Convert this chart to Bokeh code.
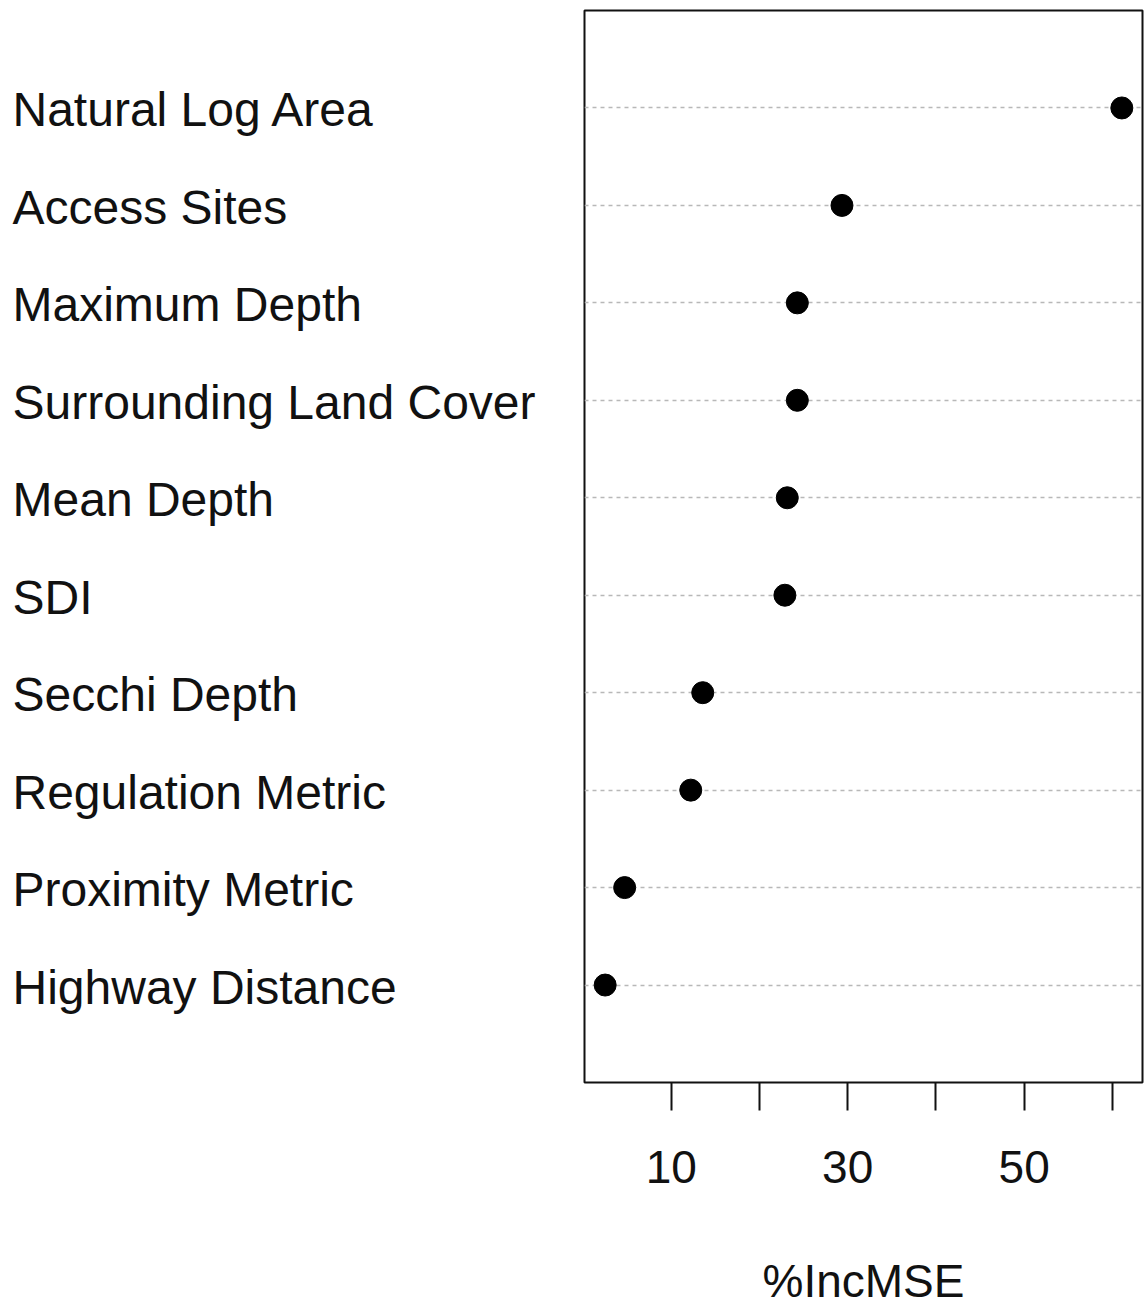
from bokeh.plotting import figure
from bokeh.layouts import row, column
from bokeh.models import Range1d, FixedTicker
from bokeh.core.properties import value
from bokeh.embed import file_html
from bokeh.resources import INLINE

# Variable importance (random forest), listed bottom to top
variables = [
    "Highway Distance",
    "Proximity Metric",
    "Regulation Metric",
    "Secchi Depth",
    "SDI",
    "Mean Depth",
    "Surrounding Land Cover",
    "Maximum Depth",
    "Access Sites",
    "Natural Log Area",
]
inc_mse = [2.51, 4.72, 12.21, 13.57, 22.88, 23.15, 24.29, 24.29, 29.35, 61.07]
x_ticks = [10, 20, 30, 40, 50, 60]
x_tick_text = ["10", "", "30", "", "50", ""]
x_title = "%IncMSE"

positions = list(range(1, len(variables) + 1))

# dotchart-style limits: 4% padding on x, 0..n+1 on y
span = max(inc_mse) - min(inc_mse)
x_lo = min(inc_mse) - 0.04 * span
x_hi = max(inc_mse) + 0.04 * span

W = 1144
MAIN_H = 1226          # chart area; the axis title sits in a strip below
FOOT_H = 1306 - MAIN_H
LABEL_W = 583
PLOT_W = W - LABEL_W
top, bottom = 10, MAIN_H - 1082

y_range = Range1d(0, len(variables) + 1)


def blank(fig):
    fig.outline_line_color = None
    fig.grid.visible = False
    fig.background_fill_color = "white"
    fig.border_fill_color = "white"


# ---- left panel: variable names ----
lab = figure(
    width=LABEL_W, height=MAIN_H,
    x_range=Range1d(0, LABEL_W), y_range=y_range,
    x_axis_location=None, y_axis_location=None,
    output_backend="svg", toolbar_location=None,
    min_border_left=0, min_border_right=0,
    min_border_top=top, min_border_bottom=bottom,
)
blank(lab)
lab.text(
    x=[12] * len(variables), y=positions, text=variables,
    text_align="left", text_baseline="middle", y_offset=2,
    text_font=value("Liberation Sans"), text_font_size="48px",
    text_color="#111111",
)

# ---- right panel: dot chart ----
p = figure(
    width=PLOT_W, height=MAIN_H,
    x_range=Range1d(x_lo, x_hi), y_range=y_range,
    output_backend="svg", toolbar_location=None,
    min_border_left=1, min_border_right=2,
    min_border_top=top, min_border_bottom=bottom,
)
p.background_fill_color = "white"
p.border_fill_color = "white"
p.outline_line_color = "#111111"
p.outline_line_width = 2

# dotted guide line for each variable
p.xgrid.visible = False
p.ygrid.ticker = FixedTicker(ticks=positions)
p.ygrid.grid_line_color = "#b8b8b8"
p.ygrid.grid_line_dash = "4 4"
p.ygrid.grid_line_width = 1.5

p.yaxis.visible = False

xa = p.xaxis[0]
xa.ticker = FixedTicker(ticks=x_ticks)
xa.major_label_overrides = {t: s for t, s in zip(x_ticks, x_tick_text)}
xa.axis_line_color = None
xa.minor_tick_line_color = None
xa.major_tick_in = 0
xa.major_tick_out = 28
xa.major_tick_line_width = 2
xa.major_tick_line_color = "#111111"
xa.major_label_standoff = 40
xa.major_label_text_font = "Liberation Sans"
xa.major_label_text_font_size = "46px"
xa.major_label_text_color = "#111111"

p.scatter(x=inc_mse, y=positions, size=22, color="black", marker="circle")

# ---- bottom strip: x-axis title, centred under the plot frame ----
foot = figure(
    width=W, height=FOOT_H,
    x_range=Range1d(0, W), y_range=Range1d(0, FOOT_H),
    x_axis_location=None, y_axis_location=None,
    output_backend="svg", toolbar_location=None,
    min_border=0,
)
blank(foot)
frame_mid = LABEL_W + 1 + (PLOT_W - 3) / 2
foot.text(
    x=[frame_mid], y=[FOOT_H - 54], text=[x_title],
    text_align="center", text_baseline="middle",
    text_font=value("Liberation Sans"), text_font_size="46px",
    text_color="#111111",
)

layout = column(row(lab, p, spacing=0), foot, spacing=0)
open("out.html", "w").write(file_html(layout, INLINE))
